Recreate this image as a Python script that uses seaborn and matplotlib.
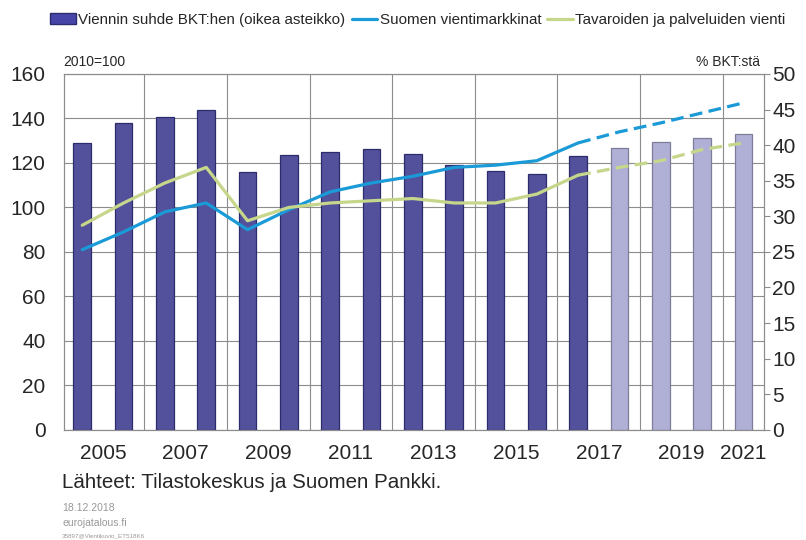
import matplotlib
matplotlib.use("Agg")
import matplotlib.pyplot as plt
from matplotlib.patches import Patch
from matplotlib.lines import Line2D
import pandas as pd
import seaborn as sns

# Arvot luettu kuvasta
vuodet = [str(v) for v in range(2005, 2022)]
vienti_bkt = [40.3, 43.1, 44.0, 45.0, 36.2, 38.6, 39.0, 39.4, 38.8, 37.2,
              36.4, 36.0, 38.5, 39.6, 40.4, 41.0, 41.6]
vientimarkkinat = [81, 89, 98, 102, 90, 99, 107, 111, 114, 118,
                   119, 121, 129, 134, 138, 142.5, 147]
tavarat_palvelut = [92, 102, 111, 118, 94, 100, 102, 103, 104, 102,
                    102, 106, 114.5, 118, 121, 126, 129]
vaihe = ["Toteutunut"] * 13 + ["Ennuste"] * 4
x_tikit = [0.5, 2.5, 4.5, 6.5, 8.5, 10.5, 12.5, 14.5, 16]
x_tikki_tekstit = ["2005", "2007", "2009", "2011", "2013", "2015", "2017", "2019", "2021"]

df = pd.DataFrame({
    "vuosi": vuodet,
    "x": range(len(vuodet)),
    "vienti_bkt": vienti_bkt,
    "vientimarkkinat": vientimarkkinat,
    "tavarat": tavarat_palvelut,
    "vaihe": vaihe,
})

sns.set_style("white")
plt.rcParams["font.family"] = ["Liberation Sans", "DejaVu Sans"]

SININEN = "#1a9ad6"
VIHREA = "#c6d68a"
TUMMA = "#4845a8"
VAALEA = "#aaaadd"
HARMAA = "#8c8c8c"

fig = plt.figure(figsize=(8.06, 5.4), dpi=100)
ax = fig.add_axes([0.079, 0.204, 0.869, 0.659])
ax2 = ax.twinx()
ax3 = ax.twinx()

# Pylväät (oikea asteikko)
sns.barplot(data=df, x="vuosi", y="vienti_bkt", hue="vaihe", dodge=False,
            palette={"Toteutunut": TUMMA, "Ennuste": VAALEA}, width=0.43,
            legend=False, ax=ax2)
for p in ax2.patches:
    fc = p.get_facecolor()
    p.set_edgecolor("#2c2c6c" if fc[0] < 0.5 else "#7d7d98")
    p.set_linewidth(0.9)

# Viivat (vasen asteikko)
toteutunut = df.iloc[:13]
ennuste = df.iloc[12:]
sns.lineplot(data=toteutunut, x="x", y="vientimarkkinat", color=SININEN, lw=2.3, ax=ax3)
sns.lineplot(data=toteutunut, x="x", y="tavarat", color=VIHREA, lw=2.3, ax=ax3)
sns.lineplot(data=ennuste, x="x", y="vientimarkkinat", color=SININEN, lw=2.3,
             linestyle=(0, (4, 2)), ax=ax3)
sns.lineplot(data=ennuste, x="x", y="tavarat", color=VIHREA, lw=2.3,
             linestyle=(0, (4, 2)), ax=ax3)

for a in (ax, ax3):
    a.set_ylim(0, 160)
ax2.set_ylim(0, 50)
ax.set_yticks(range(0, 161, 20))
ax2.set_yticks(range(0, 51, 5))
ax3.set_yticks([])
ax3.set_ylabel("")
ax2.set_ylabel("")
ax.set_ylabel("")

ax.set_xticks(x_tikit, x_tikki_tekstit)
ax.set_xticks([1.5, 3.5, 5.5, 7.5, 9.5, 11.5, 13.5, 15.5], minor=True)
ax.set_xlim(-0.45, 16.5)
ax.set_xlabel("")

ax.grid(axis="y", color=HARMAA, lw=0.8)
ax.grid(axis="x", which="minor", color=HARMAA, lw=0.8)
ax.grid(axis="x", which="major", visible=False)

ax.tick_params(axis="y", labelsize=15, length=0, pad=13)
ax.tick_params(axis="x", which="both", labelsize=15, length=0, pad=10)
ax2.tick_params(axis="y", labelsize=15, length=4, pad=2, color=HARMAA)

for a in (ax, ax2):
    for s in a.spines.values():
        s.set_color(HARMAA)
        s.set_linewidth(0.8)
for s in ax3.spines.values():
    s.set_visible(False)

# Selite
kahvat = [
    Patch(facecolor=TUMMA, edgecolor="#2c2c6c"),
    Line2D([], [], color=SININEN, lw=2.3),
    Line2D([], [], color=VIHREA, lw=2.3),
]
nimet = ["Viennin suhde BKT:hen (oikea asteikko)", "Suomen vientimarkkinat",
         "Tavaroiden ja palveluiden vienti"]
fig.legend(kahvat, nimet, loc="center left", bbox_to_anchor=(0.055, 0.963), ncol=3,
           frameon=False, fontsize=10.9, handlelength=1.7, handleheight=0.7,
           handletextpad=0.15, columnspacing=0.4, borderaxespad=0)

fig.text(0.078, 0.885, "2010=100", fontsize=10, va="center")
fig.text(0.943, 0.885, "% BKT:stä", fontsize=10, va="center", ha="right")
fig.text(0.077, 0.107, "Lähteet: Tilastokeskus ja Suomen Pankki.", fontsize=14.8,
         va="center")
fig.text(0.077, 0.059, "18.12.2018", fontsize=7.5, color="#999999", va="center")
fig.text(0.077, 0.031, "eurojatalous.fi", fontsize=7.5, color="#999999", va="center")
fig.text(0.077, 0.008, "35897@Vientikuvio_ET518K6", fontsize=4.5, color="#999999", va="center")

fig.savefig("out.png", dpi=100)
